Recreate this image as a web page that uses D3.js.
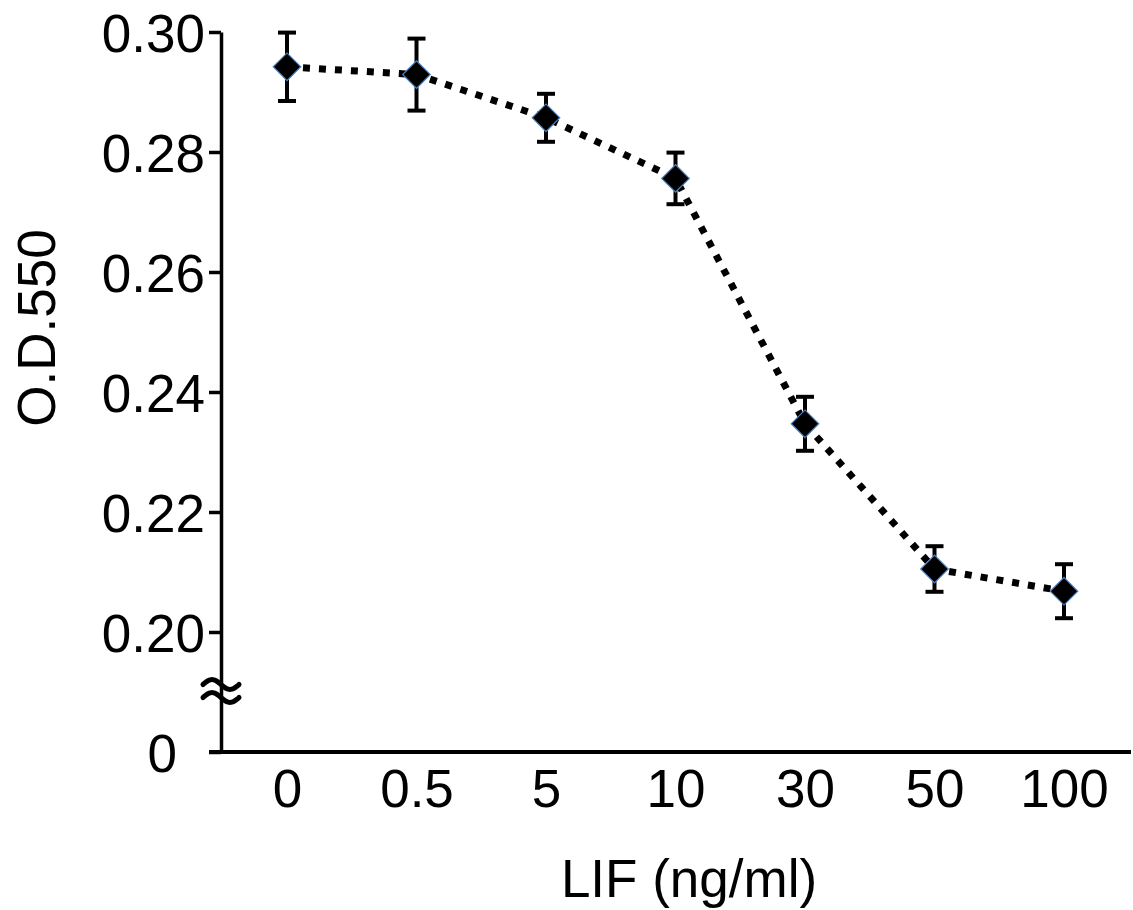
<!DOCTYPE html>
<html>
<head>
<meta charset="utf-8">
<script src="https://cdn.jsdelivr.net/npm/d3@7"></script>
<style>
  html, body { margin: 0; padding: 0; background: #fff; }
  svg { display: block; }
  text { font-family: "Liberation Sans", Arial, sans-serif; fill: #000; }
</style>
</head>
<body>
<svg id="chart" width="1133" height="910"></svg>
<script>
// LIF concentrations (ng/ml) and measured optical density at 550 nm
const doses = ["0", "0.5", "5", "10", "30", "50", "100"];
const odMean = [0.2942, 0.2929, 0.2857, 0.2756, 0.2347, 0.2105, 0.2068];
const odErr = [0.0057, 0.0060, 0.0040, 0.0043, 0.0045, 0.0038, 0.0045];
const yTicks = [0, 0.20, 0.22, 0.24, 0.26, 0.28, 0.30];

const data = doses.map((d, i) => ({ dose: d, mean: odMean[i], err: odErr[i] }));

const svg = d3.select("#chart");

// categorical x positions
const x = d3.scalePoint().domain(doses).range([287, 1064]);
// broken y axis: 0 sits just below the 0.20–0.30 window
const y = d3.scaleLinear().domain([0, 0.20, 0.30]).range([752, 632, 32]);

const axisX0 = 221;

// y axis
const yAxis = svg.append("g")
  .attr("transform", `translate(${axisX0},0)`)
  .call(d3.axisLeft(y)
    .tickValues(yTicks)
    .tickSize(12)
    .tickSizeOuter(0)
    .tickPadding(4)
    .tickFormat(v => v === 0 ? "0" : v.toFixed(2)));
yAxis.select(".domain").attr("stroke", "#000").attr("stroke-width", 3.5);
yAxis.selectAll(".tick line").attr("stroke", "#000").attr("stroke-width", 3.5);
yAxis.selectAll(".tick text")
  .attr("font-size", 53)
  .attr("font-family", "Liberation Sans, Arial, sans-serif")
  .attr("fill", "#000")
  .attr("dy", "0.36em");
// the zero label sits further out, clear of the break mark
yAxis.selectAll(".tick text").filter(v => v === 0).attr("x", -44);

// x axis baseline
svg.append("line")
  .attr("x1", axisX0 - 12).attr("x2", 1131)
  .attr("y1", y(0)).attr("y2", y(0))
  .attr("stroke", "#000").attr("stroke-width", 4);

// x tick labels
const xAxis = svg.append("g")
  .attr("transform", `translate(0,${y(0)})`)
  .call(d3.axisBottom(x).tickSize(0).tickPadding(0));
xAxis.select(".domain").remove();
xAxis.selectAll(".tick text")
  .attr("font-size", 53)
  .attr("font-family", "Liberation Sans, Arial, sans-serif")
  .attr("fill", "#000")
  .attr("y", 55)
  .attr("dy", 0);

// axis break mark on the y axis
const breakY = 691;
const wave = d3.line().curve(d3.curveBasis);
[-6.5, 6.5].forEach(off => {
  const pts = d3.range(-1, 1.001, 0.1).map(t => [axisX0 + 18 * t, breakY + off + 5 * Math.sin(Math.PI * t)]);
  svg.append("path")
    .attr("d", wave(pts))
    .attr("fill", "none")
    .attr("stroke", "#000")
    .attr("stroke-width", 5)
    .attr("stroke-linecap", "round");
});

// axis titles
svg.append("text")
  .attr("transform", "translate(55,328) rotate(-90)")
  .attr("text-anchor", "middle")
  .attr("font-size", 53)
  .text("O.D.550");

svg.append("text")
  .attr("x", 689).attr("y", 897)
  .attr("text-anchor", "middle")
  .attr("font-size", 53)
  .text("LIF (ng/ml)");

// dotted connecting line
svg.append("path")
  .datum(data)
  .attr("d", d3.line().x(d => x(d.dose)).y(d => y(d.mean)))
  .attr("fill", "none")
  .attr("stroke", "#000")
  .attr("stroke-width", 7)
  .attr("stroke-dasharray", "7 9");

// error bars
const eb = svg.append("g").attr("stroke", "#000").attr("stroke-width", 4);
data.forEach(d => {
  const cx = x(d.dose);
  eb.append("line").attr("x1", cx).attr("x2", cx)
    .attr("y1", y(d.mean + d.err)).attr("y2", y(d.mean - d.err));
  [d.mean + d.err, d.mean - d.err].forEach(v => {
    eb.append("line").attr("x1", cx - 9).attr("x2", cx + 9)
      .attr("y1", y(v)).attr("y2", y(v));
  });
});

// diamond markers
svg.append("g").selectAll("path")
  .data(data)
  .join("path")
  .attr("d", d3.symbol(d3.symbolSquare, 380))
  .attr("transform", d => `translate(${x(d.dose)},${y(d.mean)}) rotate(45)`)
  .attr("fill", "#000")
  .attr("stroke", "#4f81bd")
  .attr("stroke-width", 1.2);
</script>
</body>
</html>
